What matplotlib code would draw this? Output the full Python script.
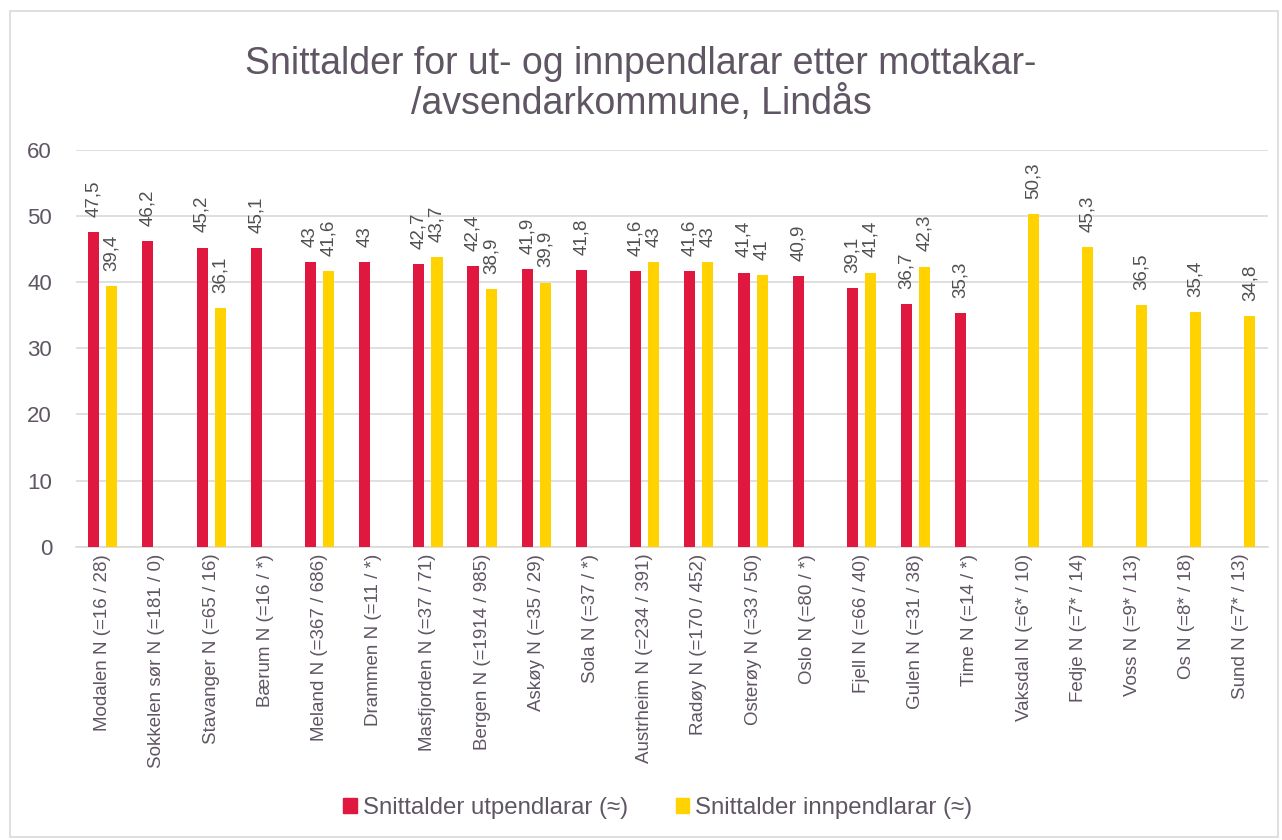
import matplotlib.pyplot as plt
import numpy as np
from matplotlib.patches import Rectangle

plt.rcParams['font.family'] = ['Liberation Sans', 'DejaVu Sans']

categories = ["Modalen N (=16 / 28)", "Sokkelen sør N (=181 / 0)", "Stavanger N (=65 / 16)",
              "Bærum N (=16 / *)", "Meland N (=367 / 686)", "Drammen N (=11 / *)",
              "Masfjorden N (=37 / 71)", "Bergen N (=1914 / 985)", "Askøy N (=35 / 29)",
              "Sola N (=37 / *)", "Austrheim N (=234 / 391)", "Radøy N (=170 / 452)",
              "Osterøy N (=33 / 50)", "Oslo N (=80 / *)", "Fjell N (=66 / 40)",
              "Gulen N (=31 / 38)", "Time N (=14 / *)", "Vaksdal N (=6* / 10)",
              "Fedje N (=7* / 14)", "Voss N (=9* / 13)", "Os N (=8* / 18)", "Sund N (=7* / 13)"]
ut = [47.5, 46.2, 45.2, 45.1, 43, 43, 42.7, 42.4, 41.9, 41.8, 41.6, 41.6, 41.4, 40.9,
      39.1, 36.7, 35.3, None, None, None, None, None]
inn = [39.4, None, 36.1, None, 41.6, None, 43.7, 38.9, 39.9, None, 43, 43, 41, None,
       41.4, 42.3, None, 50.3, 45.3, 36.5, 35.4, 34.8]

red = "#E0173F"
yellow = "#FFD200"
txt = "#5F5563"
lbl = "#505050"

fig = plt.figure(figsize=(12.82, 8.4), dpi=100)
fig.patches.append(Rectangle((0.008, 0.004), 0.989, 0.983, transform=fig.transFigure,
                             fill=False, edgecolor="#D9D9D9", lw=1.2))
ax = fig.add_axes([0.059, 0.349, 0.930, 0.473])

x = np.arange(len(categories))
w = 0.205
off = 0.167

def fmt(v):
    s = f"{v:g}"
    return s.replace(".", ",")

for i in x:
    if ut[i] is not None:
        ax.bar(i - off, ut[i], w, color=red, zorder=3)
        ax.text(i - off, ut[i] + 2.3, fmt(ut[i]), rotation=90, ha="center", va="bottom",
                fontsize=13.5, color=lbl)
    if inn[i] is not None:
        ax.bar(i + off, inn[i], w, color=yellow, zorder=3)
        ax.text(i + off, inn[i] + 2.3, fmt(inn[i]), rotation=90, ha="center", va="bottom",
                fontsize=13.5, color=lbl)

ax.set_xlim(-0.5, len(categories) - 0.5)
ax.set_ylim(0, 60)
ax.set_yticks(range(0, 61, 10))
ax.yaxis.grid(True, color="#D9D9D9", lw=1.2, zorder=0)
ax.set_xticks(x)
ax.set_xticklabels(categories, rotation=90, fontsize=13.5, color=txt)
ax.tick_params(axis="y", labelsize=16, colors=txt, length=0, pad=17)
ax.tick_params(axis="x", length=0, pad=5)
for s in ["top", "right", "left"]:
    ax.spines[s].set_visible(False)
ax.spines["bottom"].set_color("#D9D9D9")
ax.spines["bottom"].set_linewidth(1.2)

fig.text(0.5, 0.9, "Snittalder for ut- og innpendlarar etter mottakar-\n/avsendarkommune, Lindås",
         ha="center", va="center", fontsize=27, color=txt, linespacing=1.1)

hr = plt.Rectangle((0, 0), 1, 1, color=red)
hy = plt.Rectangle((0, 0), 1, 1, color=yellow)
fig.legend([hr, hy], ["Snittalder utpendlarar (≈)", "Snittalder innpendlarar (≈)"],
           loc="center", bbox_to_anchor=(0.513, 0.038), ncol=2, frameon=False,
           fontsize=17.3, labelcolor=txt, handlelength=0.55, handleheight=0.55,
           handletextpad=0.25, columnspacing=2.0)

fig.savefig("out.png", dpi=100)
